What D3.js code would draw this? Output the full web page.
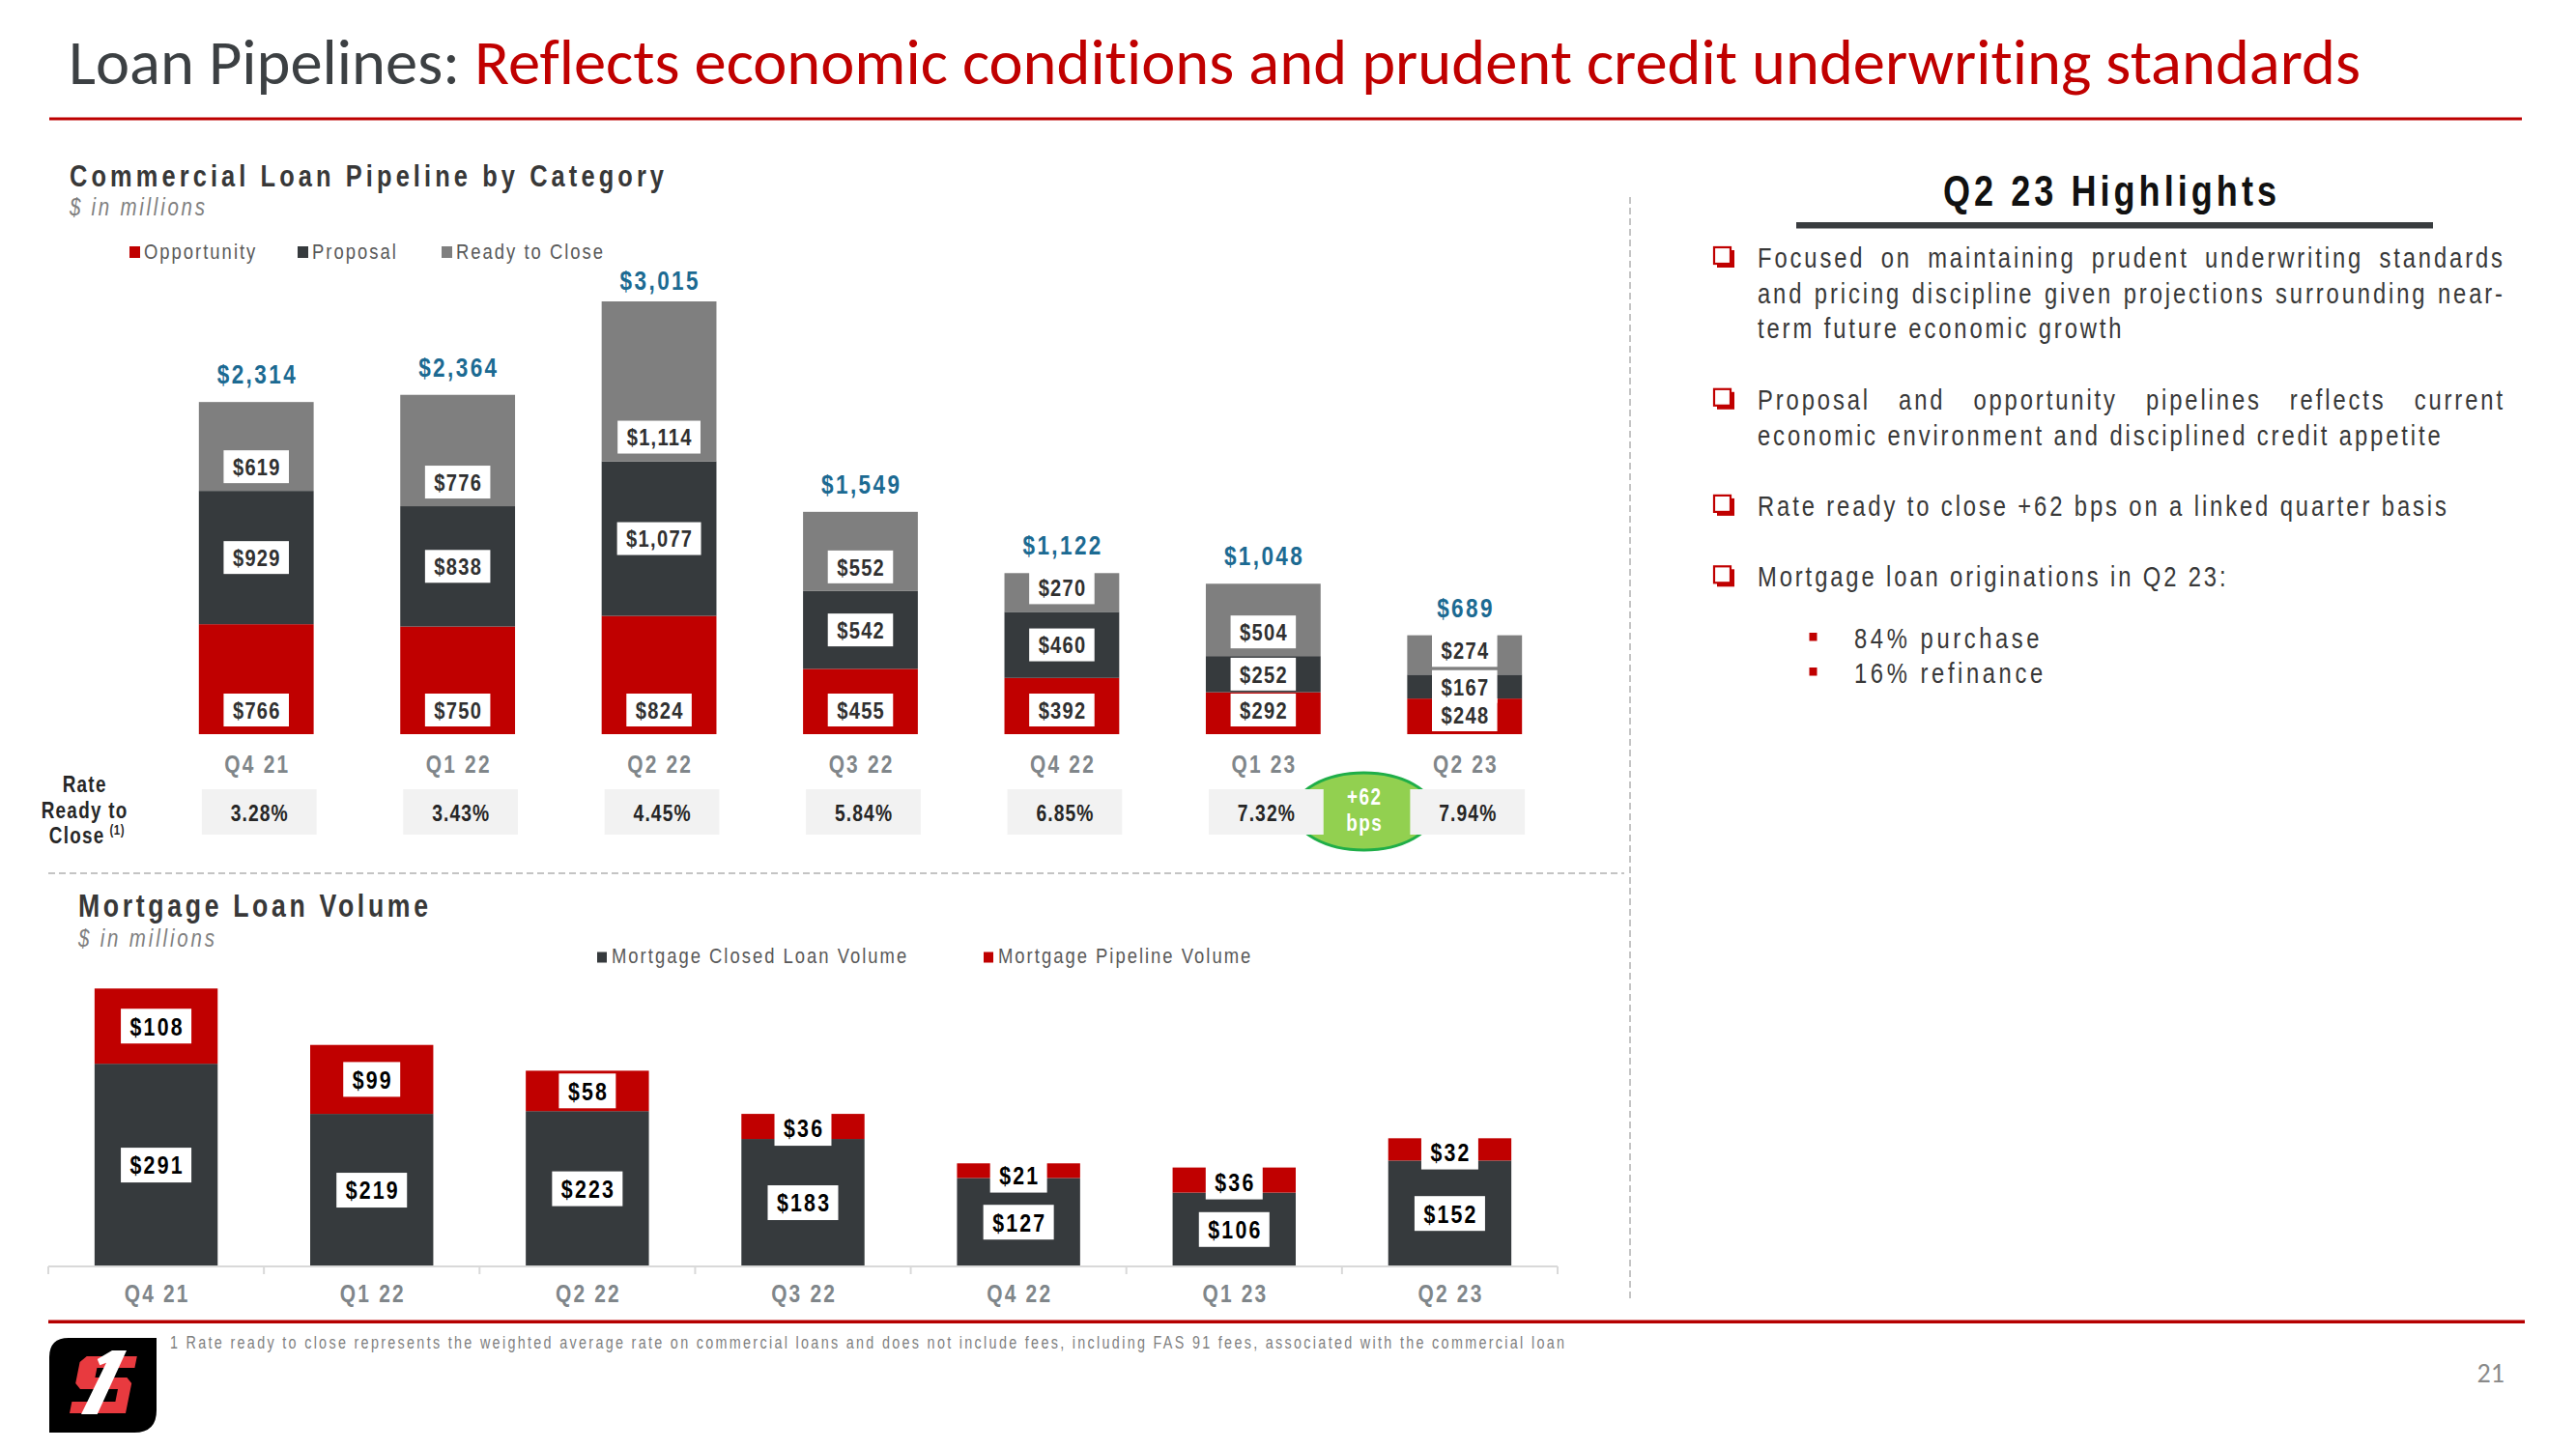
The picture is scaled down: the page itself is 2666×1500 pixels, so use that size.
<!DOCTYPE html>
<html><head><meta charset="utf-8">
<script src="https://cdn.jsdelivr.net/npm/d3@7"></script>
<style>html,body{margin:0;padding:0;background:#fff;} svg{display:block} text{white-space:pre; font-variant-ligatures:none; font-feature-settings:"liga" 0, "clig" 0;}</style>
</head><body>
<svg id="c" width="2666" height="1500"></svg>
<script>
// ---------------- DATA ----------------
const quarters = ['Q4 21','Q1 22','Q2 22','Q3 22','Q4 22','Q1 23','Q2 23'];
const commercialKeys = ['Opportunity','Proposal','Ready to Close'];
const opportunity   = [766, 750, 824, 455, 392, 292, 248];
const proposal      = [929, 838, 1077, 542, 460, 252, 167];
const readyToClose  = [619, 776, 1114, 552, 270, 504, 274];
const commercialTotals = [2314, 2364, 3015, 1549, 1122, 1048, 689];
const rateReadyToClose = [3.28, 3.43, 4.45, 5.84, 6.85, 7.32, 7.94];
const rateChangeLabel = ['+62', 'bps'];
const mortgageKeys = ['Mortgage Closed Loan Volume','Mortgage Pipeline Volume'];
const mortgageClosed   = [291, 219, 223, 183, 127, 106, 152];
const mortgagePipeline = [108, 99, 58, 36, 21, 36, 32];
const titleDark = 'Loan Pipelines: ';
const titleRed = 'Reflects economic conditions and prudent credit underwriting standards';
const commercialTitle = 'Commercial Loan Pipeline by Category';
const mortgageTitle = 'Mortgage Loan Volume';
const unitsLabel = '$ in millions';
const rateRowLabel = ['Rate', 'Ready to', 'Close'];
const highlightsTitle = 'Q2 23 Highlights';
const highlights = [
  ['Focused on maintaining prudent underwriting standards','and pricing discipline given projections surrounding near-','term future economic growth'],
  ['Proposal and opportunity pipelines reflects current','economic environment and disciplined credit appetite'],
  ['Rate ready to close +62 bps on a linked quarter basis'],
  ['Mortgage loan originations in Q2 23:']
];
const subHighlights = ['84% purchase','16% refinance'];
const footnote = '1 Rate ready to close represents the weighted average rate on commercial loans and does not include fees, including FAS 91 fees, associated with the commercial loan';
const pageNumber = '21';

// ---------------- FONTS ----------------
function hasFont(f){
  const c = document.createElement('canvas').getContext('2d');
  const s = 'abcdefghijklmnopqrstuvwxyzABCDEFG0123';
  c.font = '40px monospace'; const a = c.measureText(s).width;
  c.font = `40px '${f}', monospace`; const b = c.measureText(s).width;
  return Math.abs(a-b) > 0.5;
}
const NARROW = hasFont('Liberation Sans Narrow');
const SX = NARROW ? 1 : 0.82;
const FAM = NARROW ? "'Liberation Sans Narrow','Liberation Sans',sans-serif" : "'Liberation Sans',Arial,sans-serif";
const CARLITO = hasFont('Carlito');
const TFAM = CARLITO ? "Carlito" : "Lato,'Open Sans',sans-serif";

const RED = '#c00000', DARK = '#363a3d', GRAY = '#7f7f7f', BLUE = '#1c6a92';
const fmt = d3.format(',');

const svg = d3.select('#c');
svg.append('rect').attr('width',2666).attr('height',1500).attr('fill','#fff');

function ntext(parent, x, y, str, o={}) {
  const ls = o.ls || 0;
  let xx = x;
  if (o.anchor === 'middle' && ls && !o.width) xx += ls/2;
  if (o.anchor === 'end' && ls && !o.width) xx += ls;
  const g = parent.append('g').attr('transform', `translate(${xx},${y}) scale(${SX},1)`);
  const t = g.append('text').attr('x',0).attr('y',0)
    .attr('font-family', FAM).attr('font-size', o.size || 20)
    .attr('font-weight', o.weight || 'normal').attr('font-style', o.style || 'normal')
    .attr('fill', o.fill || '#404040').attr('text-anchor', o.anchor || 'start');
  if (ls && !o.width) t.attr('letter-spacing', ls/SX);
  t.text(str);
  if (o.width) t.attr('textLength', o.width/SX).attr('lengthAdjust','spacing');
  if (o.justify) {
    const nat = t.node().getComputedTextLength();
    const gaps = (str.match(/ /g) || []).length;
    if (gaps) t.attr('word-spacing', (o.justify/SX - nat + ls/SX)/gaps);
  }
  return t;
}

function labelBox(parent, cx, cy, str, o) {
  const g = parent.append('g');
  const r = g.append('rect').attr('fill','#fff');
  const t = ntext(g, cx, cy + o.size*0.358, str, {size:o.size, weight:'bold', fill:o.fill, anchor:'middle', ls:o.ls});
  const w = t.node().getComputedTextLength()*SX - o.ls;
  const bw = w + 2*o.pad;
  r.attr('x', cx - bw/2).attr('y', cy - o.h/2).attr('width', bw).attr('height', o.h);
}

// ---------------- TITLE ----------------
const title = svg.append('text').attr('x',71).attr('y',87)
  .attr('font-family',TFAM).attr('font-size', CARLITO ? 65 : 58.5);
title.append('tspan').attr('fill','#3c4043').text(titleDark);
title.append('tspan').attr('fill',RED).text(titleRed);
title.attr('textLength', 2372).attr('lengthAdjust','spacingAndGlyphs');
svg.append('rect').attr('x',51).attr('y',121.5).attr('width',2559).attr('height',3).attr('fill','#bd0000');

// ---------------- COMMERCIAL CHART ----------------
ntext(svg, 72, 193, commercialTitle, {size:31, weight:'bold', fill:'#383838', width:615});
ntext(svg, 72, 223, unitsLabel, {size:25, style:'italic', fill:GRAY, width:140});

const colC = d3.scaleOrdinal().domain(commercialKeys).range([RED, DARK, GRAY]);
const legX = [134, 308, 457];
commercialKeys.forEach((k,i) => {
  svg.append('rect').attr('x',legX[i]).attr('y',255).attr('width',11).attr('height',12).attr('fill',colC(k));
  ntext(svg, legX[i]+15, 267.5, k, {size:22.5, fill:'#595959', ls:2});
});

const xC = d3.scaleBand().domain(quarters).range([161,1620]).paddingInner(0.43).paddingOuter(0.215);
const yC = d3.scaleLinear().domain([0,3015]).range([760,312]);
const commercialRows = quarters.map((q,i)=>({q, 'Opportunity':opportunity[i], 'Proposal':proposal[i], 'Ready to Close':readyToClose[i]}));
const stackC = d3.stack().keys(commercialKeys)(commercialRows);
const gC = svg.append('g');
gC.selectAll('g.layer').data(stackC).join('g').attr('class','layer').attr('fill', d=>colC(d.key))
  .selectAll('rect').data(d=>d).join('rect')
  .attr('x', d=>xC(d.data.q)).attr('width', xC.bandwidth())
  .attr('y', d=>yC(d[1])).attr('height', d=>yC(d[0])-yC(d[1]));

const BOXH = 34;
quarters.forEach((q, qi) => {
  const cx = xC(q) + xC.bandwidth()/2;
  const segs = stackC.map(layer => layer[qi]);
  // label centres: base-anchored for opportunity & ready-to-close, centred for proposal
  const cys = segs.map((d, li) => li === 1 ? (yC(d[0])+yC(d[1]))/2 : yC(d[0]) - 8 - BOXH/2);
  // nudge the bottom label down if it collides with the middle one
  if (cys[0] - BOXH/2 < cys[1] + BOXH/2) cys[0] = Math.min(cys[1] + BOXH + 2, yC(0) - 3 - BOXH/2);
  [2, 1, 0].forEach(li => {
    const d = segs[li];
    labelBox(gC, cx, cys[li], '$'+fmt(d[1]-d[0]), {size:24.5, ls:1.3, fill:'#303030', pad:9.5, h:BOXH});
  });
});

quarters.forEach((q,i) => {
  const cx = xC(q) + xC.bandwidth()/2;
  const by = Math.max(yC(commercialTotals[i]) - 19, 300);
  ntext(gC, cx, by, '$'+fmt(commercialTotals[i]), {size:27.5, weight:'bold', fill:BLUE, anchor:'middle', ls:2.4});
  ntext(gC, cx, 800, q, {size:25.5, weight:'bold', fill:'#80868a', anchor:'middle', ls:2.2});
});

// rate row
const cQ1 = xC('Q1 23') + xC.bandwidth()/2, cQ2 = xC('Q2 23') + xC.bandwidth()/2;
svg.append('ellipse').attr('cx',(cQ1+cQ2)/2).attr('cy',840).attr('rx',72).attr('ry',40)
  .attr('fill','#92d050').attr('stroke','#1fae48').attr('stroke-width',3);
quarters.forEach((q,i) => {
  const x0 = xC(q) + 3;
  svg.append('rect').attr('x',x0).attr('y',817).attr('width',xC.bandwidth()).attr('height',47).attr('fill','#f2f2f2');
  ntext(svg, x0 + xC.bandwidth()/2, 849.5, d3.format('.2f')(rateReadyToClose[i])+'%', {size:23.5, weight:'bold', fill:'#262626', anchor:'middle', ls:1.1});
});
ntext(svg, (cQ1+cQ2)/2, 833, rateChangeLabel[0], {size:23, weight:'bold', fill:'#fff', anchor:'middle', ls:1.5});
ntext(svg, (cQ1+cQ2)/2, 860, rateChangeLabel[1], {size:23, weight:'bold', fill:'#fff', anchor:'middle', ls:1.5});

ntext(svg, 87, 820, rateRowLabel[0], {size:23, weight:'bold', fill:'#262626', anchor:'middle', ls:1.3});
ntext(svg, 87, 846.5, rateRowLabel[1], {size:23, weight:'bold', fill:'#262626', anchor:'middle', ls:1.3});
ntext(svg, 79, 873, rateRowLabel[2], {size:23, weight:'bold', fill:'#262626', anchor:'middle', ls:1.3});
ntext(svg, 121, 864, '(1)', {size:14, weight:'bold', fill:'#262626', anchor:'middle', ls:0.5});

// dividers
svg.append('line').attr('x1',50).attr('x2',1681).attr('y1',904).attr('y2',904)
  .attr('stroke','#c4c4c4').attr('stroke-width',2).attr('stroke-dasharray','7,4');
svg.append('line').attr('x1',1687).attr('x2',1687).attr('y1',204).attr('y2',1348)
  .attr('stroke','#c4c4c4').attr('stroke-width',2).attr('stroke-dasharray','7,4');

// ---------------- MORTGAGE CHART ----------------
ntext(svg, 81, 949, mortgageTitle, {size:32.5, weight:'bold', fill:'#383838', width:362});
ntext(svg, 81, 980, unitsLabel, {size:25, style:'italic', fill:GRAY, width:141});
const colM = d3.scaleOrdinal().domain(mortgageKeys).range([DARK, RED]);
const legMX = [618, 1018];
mortgageKeys.forEach((k,i) => {
  svg.append('rect').attr('x',legMX[i]).attr('y',985.5).attr('width',10).attr('height',11).attr('fill',colM(k));
  ntext(svg, legMX[i]+15, 997, k, {size:22.5, fill:'#595959', ls:2});
});

const xM = d3.scaleBand().domain(quarters).range([50,1612]).paddingInner(0.429).paddingOuter(0.2145);
const yM = d3.scaleLinear().domain([0,399]).range([1311,1023.3]);
const mortgageRows = quarters.map((q,i)=>({q, 'Mortgage Closed Loan Volume':mortgageClosed[i], 'Mortgage Pipeline Volume':mortgagePipeline[i]}));
const stackM = d3.stack().keys(mortgageKeys)(mortgageRows);
const gM = svg.append('g');
gM.selectAll('g.layer').data(stackM).join('g').attr('class','layer').attr('fill', d=>colM(d.key))
  .selectAll('rect').data(d=>d).join('rect')
  .attr('x', d=>xM(d.data.q)).attr('width', xM.bandwidth())
  .attr('y', d=>yM(d[1])).attr('height', d=>yM(d[0])-yM(d[1]));

// axis
const axisG = svg.append('g').attr('transform','translate(0,1311)');
axisG.append('line').attr('x1',xM.range()[0]).attr('x2',xM.range()[1]).attr('stroke','#d9d9d9').attr('stroke-width',2);
d3.range(quarters.length+1).forEach(i => {
  const tx = xM.range()[0] + i*xM.step();
  axisG.append('line').attr('x1',tx).attr('x2',tx).attr('y1',0).attr('y2',8).attr('stroke','#d9d9d9').attr('stroke-width',2);
});
quarters.forEach(q => {
  ntext(svg, xM(q)+xM.bandwidth()/2, 1348, q, {size:25.5, weight:'bold', fill:'#80868a', anchor:'middle', ls:2.2});
});

stackM.forEach((layer) => layer.forEach(d => {
  const cx = xM(d.data.q) + xM.bandwidth()/2;
  const segH = yM(d[0]) - yM(d[1]);
  const cy = (yM(d[0])+yM(d[1]))/2 + Math.max(0, (34 - segH)*0.25);
  labelBox(gM, cx, cy, '$'+fmt(d[1]-d[0]), {size:26, ls:2.2, fill:'#000', pad:9.5, h:36});
}));

// ---------------- HIGHLIGHTS ----------------
ntext(svg, 2183.5, 213, highlightsTitle, {size:44, weight:'bold', fill:'#111', anchor:'middle', width:345});
svg.append('rect').attr('x',1859).attr('y',230).attr('width',659).attr('height',6.5).attr('fill','#3a3d40');

function bulletBox(x, base) {
  svg.append('rect').attr('x',x+3).attr('y',base-18).attr('width',18).attr('height',18).attr('fill',RED);
  svg.append('rect').attr('x',x).attr('y',base-21).attr('width',17).attr('height',17)
    .attr('fill','#fff').attr('stroke',RED).attr('stroke-width',2.2);
}
const lineStep = 36.7;
let base = 277;
highlights.forEach(par => {
  bulletBox(1774, base);
  par.forEach((ln, li) => {
    const last = li === par.length - 1;
    ntext(svg, 1819, base, ln, {size:29, fill:'#383838', ls:2.9, justify: last ? 0 : 771});
    if (!last) base += lineStep;
  });
  base += 2*lineStep;
});
let sb = 671;
subHighlights.forEach(s => {
  svg.append('rect').attr('x',1872.5).attr('y',sb-16).attr('width',8).attr('height',8.5).attr('fill',RED);
  ntext(svg, 1919, sb, s, {size:29, fill:'#383838', ls:3.6});
  sb += 36;
});

// ---------------- FOOTER ----------------
svg.append('rect').attr('x',50).attr('y',1366.5).attr('width',2563).attr('height',3.5).attr('fill','#b50000');
ntext(svg, 176, 1396, footnote, {size:17.5, fill:GRAY, width:1443});
svg.append('text').attr('x',2592).attr('y',1431).attr('text-anchor','end')
  .attr('font-family',TFAM).attr('font-size',28).attr('fill','#8a8a8a').text(pageNumber);

// logo
const logo = svg.append('g');
logo.append('path').attr('fill','#000')
  .attr('d','M51,1405 Q51,1385 71,1385 L162,1385 L162,1460 Q162,1483 139,1483 L51,1483 Z');
const sPts = [[6,0],[58,0],[58,12],[19,12],[19,22],[52,22],[58,28],[58,59],[0,59],[0,47],[45,47],[45,34],[6,34],[0,28],[0,6]];
logo.append('polygon').attr('fill','#e83a3f')
  .attr('points', sPts.map(p => [72 + p[0] + (59-p[1])*0.2, 1404 + p[1]].join(',')).join(' '));
logo.append('polygon').attr('fill','#fff')
  .attr('points','84,1464 100.7,1464 131,1398 116,1398 100.7,1407 103.3,1413.3 110,1410.7');
</script>
</body></html>
